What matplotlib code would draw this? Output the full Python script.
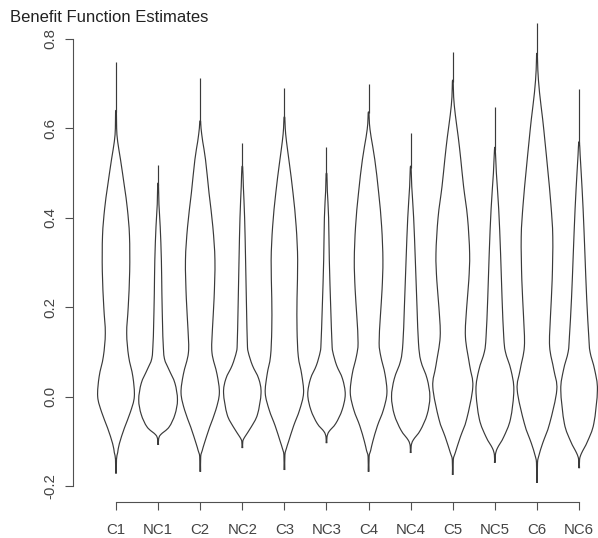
import numpy as np
import matplotlib
matplotlib.use("Agg")
import matplotlib.pyplot as plt
from matplotlib.path import Path
from matplotlib.patches import PathPatch

plt.rcParams['font.family'] = ['Liberation Sans', 'DejaVu Sans']

labels = ["C1", "NC1", "C2", "NC2", "C3", "NC3", "C4", "NC4", "C5", "NC5", "C6", "NC6"]

# upper end of the thin line above each violin
tops = [0.748, 0.518, 0.712, 0.568, 0.690, 0.559, 0.699, 0.589, 0.771, 0.648, 0.835, 0.687]

# outline of each violin: y levels and half widths (x units)
c1_y = [-0.172, -0.14, -0.125, -0.105, -0.07, -0.035, 0.0, 0.045, 0.09, 0.142, 0.20, 0.28, 0.36, 0.42, 0.47, 0.53, 0.57, 0.60, 0.636]
c1_w = [0.01, 0.012, 0.04, 0.08, 0.20, 0.34, 0.435, 0.40, 0.30, 0.254, 0.29, 0.325, 0.32, 0.27, 0.20, 0.107, 0.04, 0.015, 0.01]
nc1_y = [-0.108, -0.095, -0.085, -0.068, -0.04, -0.007, 0.03, 0.06, 0.085, 0.12, 0.156, 0.23, 0.305, 0.38, 0.43, 0.473]
nc1_w = [0.01, 0.012, 0.06, 0.26, 0.40, 0.46, 0.40, 0.26, 0.15, 0.12, 0.107, 0.09, 0.078, 0.05, 0.02, 0.01]
c2_y = [-0.168, -0.134, -0.12, -0.104, -0.068, -0.03, 0.008, 0.05, 0.098, 0.15, 0.22, 0.305, 0.38, 0.455, 0.53, 0.57, 0.60, 0.615]
c2_w = [0.01, 0.012, 0.05, 0.10, 0.225, 0.37, 0.455, 0.40, 0.28, 0.29, 0.33, 0.35, 0.30, 0.21, 0.126, 0.06, 0.02, 0.01]
nc2_y = [-0.115, -0.10, -0.09, -0.068, -0.04, 0.008, 0.04, 0.07, 0.10, 0.12, 0.20, 0.305, 0.40, 0.47, 0.511]
nc2_w = [0.01, 0.012, 0.06, 0.21, 0.36, 0.445, 0.39, 0.24, 0.14, 0.12, 0.10, 0.078, 0.055, 0.025, 0.01]
c3_y = [-0.164, -0.13, -0.115, -0.10, -0.065, -0.03, 0.008, 0.05, 0.09, 0.15, 0.22, 0.305, 0.38, 0.455, 0.52, 0.57, 0.60, 0.623]
c3_w = [0.01, 0.012, 0.05, 0.10, 0.22, 0.36, 0.455, 0.41, 0.33, 0.30, 0.30, 0.315, 0.28, 0.205, 0.12, 0.05, 0.02, 0.01]
nc3_y = [-0.104, -0.09, -0.078, -0.06, -0.03, 0.005, 0.04, 0.07, 0.10, 0.12, 0.20, 0.305, 0.40, 0.46, 0.496]
nc3_w = [0.01, 0.012, 0.06, 0.22, 0.37, 0.445, 0.38, 0.24, 0.15, 0.13, 0.10, 0.067, 0.05, 0.02, 0.01]
c4_y = [-0.168, -0.134, -0.12, -0.10, -0.065, -0.03, 0.008, 0.05, 0.09, 0.12, 0.18, 0.24, 0.305, 0.38, 0.455, 0.53, 0.58, 0.61, 0.634]
c4_w = [0.01, 0.012, 0.05, 0.10, 0.21, 0.35, 0.435, 0.39, 0.29, 0.25, 0.28, 0.32, 0.34, 0.31, 0.24, 0.147, 0.06, 0.02, 0.01]
nc4_y = [-0.126, -0.11, -0.097, -0.075, -0.04, 0.0, 0.04, 0.08, 0.12, 0.20, 0.305, 0.40, 0.47, 0.511]
nc4_w = [0.01, 0.012, 0.06, 0.23, 0.39, 0.455, 0.39, 0.24, 0.185, 0.15, 0.11, 0.07, 0.025, 0.01]
c5_y = [-0.175, -0.141, -0.125, -0.09, -0.05, 0.022, 0.07, 0.134, 0.20, 0.26, 0.32, 0.40, 0.47, 0.53, 0.58, 0.63, 0.67, 0.704]
c5_w = [0.01, 0.012, 0.06, 0.18, 0.33, 0.475, 0.40, 0.30, 0.33, 0.38, 0.40, 0.35, 0.256, 0.19, 0.13, 0.06, 0.02, 0.01]
nc5_y = [-0.148, -0.13, -0.115, -0.09, -0.05, 0.015, 0.06, 0.10, 0.134, 0.22, 0.32, 0.42, 0.50, 0.552]
nc5_w = [0.01, 0.012, 0.06, 0.21, 0.37, 0.45, 0.38, 0.25, 0.21, 0.17, 0.135, 0.09, 0.035, 0.01]
c6_y = [-0.193, -0.148, -0.13, -0.104, -0.06, 0.015, 0.06, 0.112, 0.18, 0.26, 0.357, 0.43, 0.507, 0.57, 0.62, 0.68, 0.73, 0.764]
c6_w = [0.01, 0.012, 0.05, 0.135, 0.30, 0.47, 0.40, 0.30, 0.32, 0.36, 0.375, 0.33, 0.256, 0.19, 0.135, 0.06, 0.02, 0.01]
nc6_y = [-0.16, -0.14, -0.126, -0.10, -0.06, 0.015, 0.06, 0.10, 0.134, 0.22, 0.32, 0.42, 0.50, 0.54, 0.567]
nc6_w = [0.01, 0.012, 0.06, 0.20, 0.35, 0.435, 0.37, 0.26, 0.23, 0.18, 0.138, 0.095, 0.05, 0.025, 0.01]

outlines = [(c1_y, c1_w), (nc1_y, nc1_w), (c2_y, c2_w), (nc2_y, nc2_w),
            (c3_y, c3_w), (nc3_y, nc3_w), (c4_y, c4_w), (nc4_y, nc4_w),
            (c5_y, c5_w), (nc5_y, nc5_w), (c6_y, c6_w), (nc6_y, nc6_w)]


def smooth_path(pts):
    # catmull-rom through the points, as bezier segments
    pts = np.asarray(pts)
    n = len(pts)
    verts = [pts[0]]
    codes = [Path.MOVETO]
    for i in range(n - 1):
        p0 = pts[max(i - 1, 0)]
        p1 = pts[i]
        p2 = pts[i + 1]
        p3 = pts[min(i + 2, n - 1)]
        verts += [p1 + (p2 - p0) / 6, p2 - (p3 - p1) / 6, p2]
        codes += [Path.CURVE4] * 3
    return Path(verts, codes)


W, H = 598, 538
fig = plt.figure(figsize=(W / 100, H / 100), dpi=100)
# axes box in pixels: left 73, bottom line at 502, top at 20
ax = fig.add_axes([73 / W, (H - 502) / H, (W - 73) / W, (502 - 20) / H])
ax.set_xlim(-0.0214, 12.449)
ax.set_ylim(-0.2355, 0.842)

col = '#3a3a3a'
for i, (ys, ws) in enumerate(outlines):
    pos = i + 1
    ys = np.asarray(ys)
    ws = np.asarray(ws)
    right = np.column_stack([pos + ws, ys])
    left = np.column_stack([pos - ws, ys])[::-1]
    pts = np.vstack([right, left])
    ax.add_patch(PathPatch(smooth_path(pts), fill=False, edgecolor=col, lw=0.85))
    ax.plot([pos, pos], [ys[-1], tops[i]], color=col, lw=0.85, solid_capstyle='butt')

for s in ['top', 'right']:
    ax.spines[s].set_visible(False)
ax.spines['left'].set_bounds(-0.2, 0.8)
ax.spines['bottom'].set_bounds(1, 12)
for s in ['left', 'bottom']:
    ax.spines[s].set_color('#505050')
    ax.spines[s].set_linewidth(0.8)

ax.set_yticks([-0.2, 0.0, 0.2, 0.4, 0.6, 0.8])
ax.set_yticklabels(["-0.2", "0.0", "0.2", "0.4", "0.6", "0.8"], rotation=90, va='center')
ax.set_xticks(range(1, 13))
ax.set_xticklabels(labels)
ax.tick_params(direction='out', length=6, width=0.8, color='#505050',
               labelsize=10.8, labelcolor='#444444')
ax.tick_params(axis='y', pad=5)
ax.tick_params(axis='x', pad=9)

fig.text(10 / W, (H - 22) / H, "Benefit Function Estimates", fontsize=12,
         color='#222222', ha='left', va='baseline')

fig.savefig("out.png", dpi=100)
